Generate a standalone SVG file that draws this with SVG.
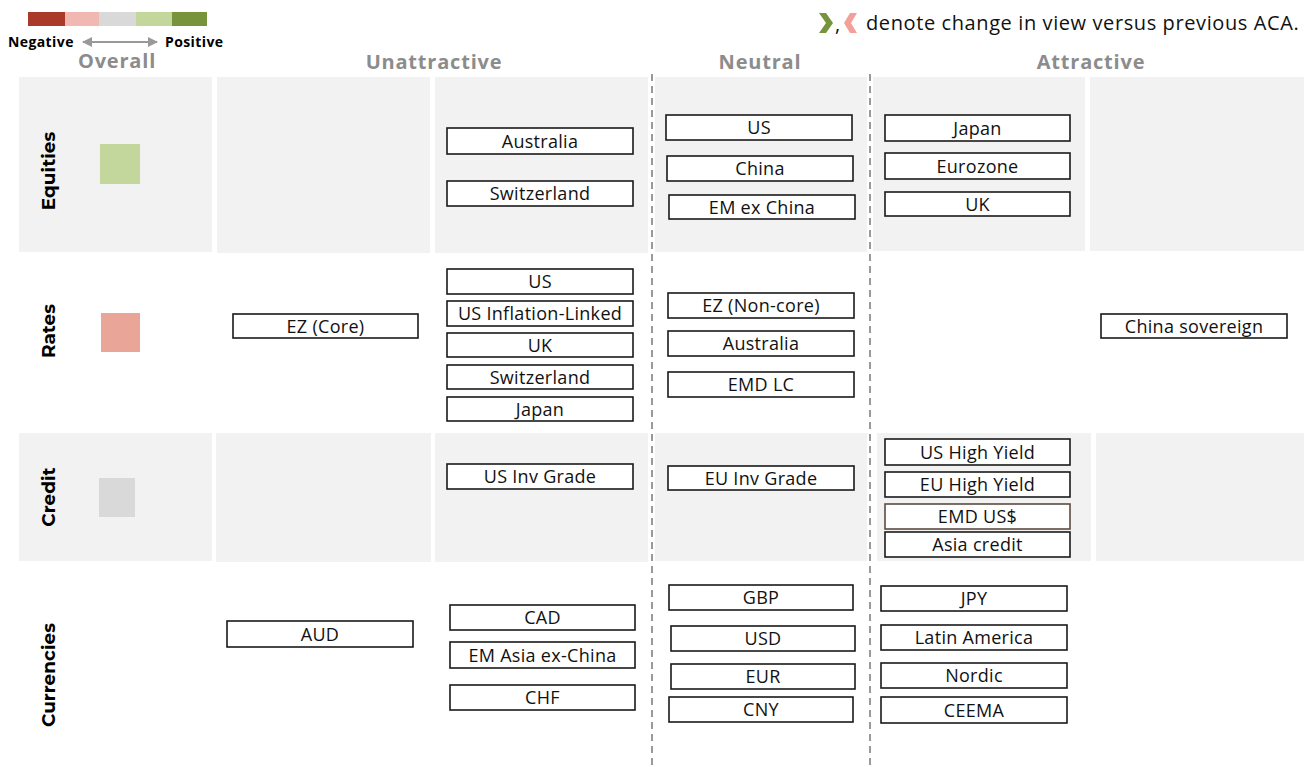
<svg xmlns="http://www.w3.org/2000/svg" width="1304" height="767" viewBox="0 0 1304 767">
<style>
.bg{fill:#f2f2f2}
.box rect{fill:#fff;stroke:#1a1a1a;stroke-width:1.6}
.box text{font-family:"Open Sans","Noto Sans",sans-serif;font-size:18px;letter-spacing:0.3px;fill:#111;text-anchor:middle}
.hdr{font-family:"Open Sans","Noto Sans",sans-serif;font-size:20px;letter-spacing:0.8px;font-weight:bold;fill:#8c8c8c;text-anchor:middle}
.row{font-family:"Montserrat","Open Sans","Noto Sans",sans-serif;font-size:18.5px;font-weight:bold;fill:#000;text-anchor:middle}
.leg{font-family:"Open Sans","Noto Sans",sans-serif;font-size:14px;letter-spacing:0.4px;font-weight:bold;fill:#000}
.dash{stroke:#999;stroke-width:2;stroke-dasharray:7 5;fill:none}
</style>
<defs>
<marker id="ah" viewBox="0 0 10 10" refX="9" refY="5" markerWidth="5" markerHeight="5" orient="auto-start-reverse">
<path d="M0,0 L10,5 L0,10 z" fill="#999"/>
</marker>
</defs>
<rect width="1304" height="767" fill="#fff"/>

<g id="legend">
<rect x="28" y="12" width="37" height="14" fill="#a93a2a"/>
<rect x="65" y="12" width="34" height="14" fill="#f0b8b0"/>
<rect x="99" y="12" width="37" height="14" fill="#d9d9d9"/>
<rect x="136" y="12" width="36" height="14" fill="#c3d69b"/>
<rect x="172" y="12" width="35" height="14" fill="#77933c"/>
<text class="leg" x="8" y="47">Negative</text>
<line x1="83" y1="42" x2="157" y2="42" stroke="#999" stroke-width="2" marker-start="url(#ah)" marker-end="url(#ah)"/>
<text class="leg" x="165" y="47">Positive</text>
</g>

<g id="change-note">
<polygon points="819,13 826,13 833,23 826,33 819,33 826,23" fill="#77933c"/>
<text x="835" y="31" font-family="Open Sans,Noto Sans,sans-serif" font-size="20" fill="#111">,</text>
<polygon points="857,13 850,13 844,23 850,33 857,33 851,23" fill="#f4a09a"/>
<text x="866" y="30" font-family="Open Sans,Noto Sans,sans-serif" font-size="20" letter-spacing="0.6" fill="#111">denote change in view versus previous ACA.</text>
</g>

<g id="headers">
<text class="hdr" x="117" y="68">Overall</text>
<text class="hdr" x="434" y="69">Unattractive</text>
<text class="hdr" x="760" y="69">Neutral</text>
<text class="hdr" x="1091" y="69">Attractive</text>
</g>

<g id="backgrounds">
<rect class="bg" x="19" y="77" width="193" height="175"/>
<rect class="bg" x="217" y="77" width="213" height="176"/>
<rect class="bg" x="435" y="77" width="213" height="176"/>
<rect class="bg" x="655" y="77" width="212" height="175"/>
<rect class="bg" x="873" y="77" width="212" height="174"/>
<rect class="bg" x="1090" y="77" width="214" height="174"/>
<rect class="bg" x="19" y="433" width="193" height="128"/>
<rect class="bg" x="216" y="433" width="215" height="129"/>
<rect class="bg" x="435" y="433" width="213" height="129"/>
<rect class="bg" x="655" y="433" width="212" height="128"/>
<rect class="bg" x="877" y="433" width="214" height="128"/>
<rect class="bg" x="1096" y="433" width="208" height="128"/>
</g>

<g id="dividers">
<line class="dash" x1="652" y1="74" x2="652" y2="767"/>
<line class="dash" x1="870" y1="74" x2="870" y2="767"/>
</g>

<g id="row-equities">
<text class="row" transform="translate(55,171) rotate(-90)">Equities</text>
<rect x="100" y="144" width="40" height="40" fill="#c3d69b"/>
</g>
<g id="row-rates">
<text class="row" transform="translate(55,331) rotate(-90)">Rates</text>
<rect x="101" y="313" width="39" height="39" fill="#e8a598"/>
</g>
<g id="row-credit">
<text class="row" transform="translate(55,497) rotate(-90)">Credit</text>
<rect x="99" y="478" width="36" height="39" fill="#d9d9d9"/>
</g>
<g id="row-currencies">
<text class="row" transform="translate(55,675) rotate(-90)">Currencies</text>
</g>

<g id="eq-australia" class="box"><rect x="447" y="128" width="186" height="26"/><text x="540" y="147.5">Australia</text></g>
<g id="eq-switzerland" class="box"><rect x="447" y="181" width="186" height="25"/><text x="540" y="200">Switzerland</text></g>
<g id="eq-us" class="box"><rect x="666" y="115" width="186" height="25"/><text x="759" y="134">US</text></g>
<g id="eq-china" class="box"><rect x="667" y="156" width="186" height="25"/><text x="760" y="175">China</text></g>
<g id="eq-emexchina" class="box"><rect x="669" y="195" width="186" height="24"/><text x="762" y="213.5">EM ex China</text></g>
<g id="eq-japan" class="box"><rect x="885" y="115" width="185" height="26"/><text x="977.5" y="134.5">Japan</text></g>
<g id="eq-eurozone" class="box"><rect x="885" y="153" width="185" height="26"/><text x="977.5" y="172.5">Eurozone</text></g>
<g id="eq-uk" class="box"><rect x="885" y="192" width="185" height="24"/><text x="977.5" y="210.5">UK</text></g>

<g id="rt-ezcore" class="box"><rect x="233" y="314" width="185" height="24"/><text x="325.5" y="332.5">EZ (Core)</text></g>
<g id="rt-us" class="box"><rect x="447" y="269" width="186" height="25"/><text x="540" y="288">US</text></g>
<g id="rt-usil" class="box"><rect x="447" y="301" width="186" height="25"/><text x="540" y="320">US Inflation-Linked</text></g>
<g id="rt-uk" class="box"><rect x="447" y="333" width="186" height="24"/><text x="540" y="351.5">UK</text></g>
<g id="rt-switzerland" class="box"><rect x="447" y="365" width="186" height="24"/><text x="540" y="383.5">Switzerland</text></g>
<g id="rt-japan" class="box"><rect x="447" y="397" width="186" height="24"/><text x="540" y="415.5">Japan</text></g>
<g id="rt-eznoncore" class="box"><rect x="668" y="293" width="186" height="25"/><text x="761" y="312">EZ (Non-core)</text></g>
<g id="rt-australia" class="box"><rect x="668" y="331" width="186" height="25"/><text x="761" y="350">Australia</text></g>
<g id="rt-emdlc" class="box"><rect x="668" y="372" width="186" height="25"/><text x="761" y="391">EMD LC</text></g>
<g id="rt-chinasov" class="box"><rect x="1101" y="314" width="186" height="24"/><text x="1194" y="332.5">China sovereign</text></g>

<g id="cr-usig" class="box"><rect x="447" y="464" width="186" height="25"/><text x="540" y="483">US Inv Grade</text></g>
<g id="cr-euig" class="box"><rect x="668" y="466" width="186" height="24"/><text x="761" y="484.5">EU Inv Grade</text></g>
<g id="cr-ushy" class="box"><rect x="885" y="439" width="185" height="26"/><text x="977.5" y="458.5">US High Yield</text></g>
<g id="cr-euhy" class="box"><rect x="885" y="472" width="185" height="25"/><text x="977.5" y="491">EU High Yield</text></g>
<g id="cr-emdusd" class="box"><rect x="885" y="504" width="185" height="25" style="stroke:#5e4b40"/><text x="977.5" y="523">EMD US$</text></g>
<g id="cr-asia" class="box"><rect x="885" y="532" width="185" height="25"/><text x="977.5" y="551">Asia credit</text></g>

<g id="fx-aud" class="box"><rect x="227" y="621" width="186" height="26"/><text x="320" y="640.5">AUD</text></g>
<g id="fx-cad" class="box"><rect x="450" y="605" width="185" height="25"/><text x="542.5" y="624">CAD</text></g>
<g id="fx-emasia" class="box"><rect x="450" y="642" width="185" height="26"/><text x="542.5" y="661.5">EM Asia ex-China</text></g>
<g id="fx-chf" class="box"><rect x="450" y="685" width="185" height="25"/><text x="542.5" y="704">CHF</text></g>
<g id="fx-gbp" class="box"><rect x="669" y="585" width="184" height="25"/><text x="761" y="604">GBP</text></g>
<g id="fx-usd" class="box"><rect x="671" y="626" width="184" height="25"/><text x="763" y="645">USD</text></g>
<g id="fx-eur" class="box"><rect x="671" y="664" width="184" height="25"/><text x="763" y="683">EUR</text></g>
<g id="fx-cny" class="box"><rect x="669" y="697" width="184" height="25"/><text x="761" y="716">CNY</text></g>
<g id="fx-jpy" class="box"><rect x="881" y="586" width="186" height="25"/><text x="974" y="605">JPY</text></g>
<g id="fx-latam" class="box"><rect x="881" y="625" width="186" height="25"/><text x="974" y="644">Latin America</text></g>
<g id="fx-nordic" class="box"><rect x="881" y="663" width="186" height="25"/><text x="974" y="682">Nordic</text></g>
<g id="fx-ceema" class="box"><rect x="881" y="697" width="186" height="26"/><text x="974" y="716.5">CEEMA</text></g>
</svg>
